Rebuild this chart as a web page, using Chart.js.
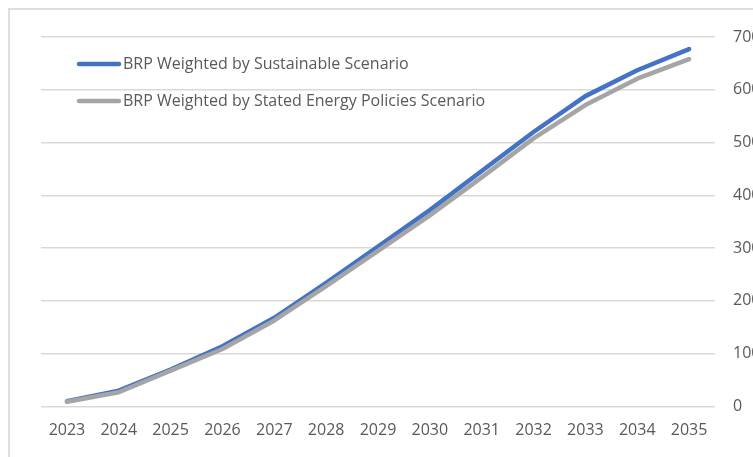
<!DOCTYPE html>
<html>
<head>
<meta charset="utf-8">
<script src="https://cdn.jsdelivr.net/npm/chart.js@4/dist/chart.umd.min.js"></script>
<style>
  html, body { margin: 0; padding: 0; background: #fff; overflow: hidden; }
  #wrap { position: relative; width: 753px; height: 457px; }
  #frame { position: absolute; left: 8px; top: 8px; width: 800px; height: 520px; border: 2px solid #dedede; box-sizing: border-box; }
  #brp { position: absolute; left: 0; top: 0; }
</style>
</head>
<body>
<div id="wrap">
  <div id="frame"></div>
  <canvas id="brp" width="753" height="457"></canvas>
</div>
<script>
// years and the two weighted BRP series
const years = ['2023','2024','2025','2026','2027','2028','2029','2030','2031','2032','2033','2034','2035']
const sustainable = [10, 30, 70, 114, 168, 234, 303, 372, 446, 520, 588, 637, 677]
const statedPolicies = [9, 27, 68, 109, 163, 228, 295, 362, 434, 508, 571, 621, 658]
const yTicks = [0, 100, 200, 300, 400, 500, 600, 700]

const textColor = '#595959'
const fontFamily = '"Open Sans", "Noto Sans", sans-serif'

// legend drawn inside the plot, top-left
const innerLegend = {
    id: 'innerLegend',
    afterDraw(chart) {
        const ctx = chart.ctx
        const area = chart.chartArea
        ctx.save()
        chart.data.datasets.forEach((ds, i) => {
            let y = area.top + 27 + i * 37
            let x0 = area.left + 38
            ctx.strokeStyle = ds.borderColor
            ctx.lineWidth = 4.5
            ctx.lineCap = 'round'
            ctx.beginPath()
            ctx.moveTo(x0, y)
            ctx.lineTo(x0 + 40, y)
            ctx.stroke()
            ctx.fillStyle = textColor
            ctx.font = '16px ' + fontFamily
            ctx.textBaseline = 'middle'
            ctx.fillText(ds.label, x0 + 44, y)
        })
        ctx.restore()
    }
}

let ctx = document.getElementById('brp').getContext('2d')

new Chart(ctx, {
    type: 'line',
    data: {
        labels: years,
        datasets: [{
            label: 'BRP Weighted by Sustainable Scenario',
            data: sustainable,
            borderColor: '#4472C4',
            borderWidth: 4.5,
            pointRadius: 0,
            tension: 0,
            borderCapStyle: 'round',
            borderJoinStyle: 'round',
            order: 2
        }, {
            label: 'BRP Weighted by Stated Energy Policies Scenario',
            data: statedPolicies,
            borderColor: '#A5A5A5',
            borderWidth: 4.5,
            pointRadius: 0,
            tension: 0,
            borderCapStyle: 'round',
            borderJoinStyle: 'round',
            order: 1
        }]
    },
    options: {
        responsive: false,
        animation: false,
        layout: { padding: { left: 41, top: 37, right: 0, bottom: 0 } },
        plugins: {
            legend: { display: false },
            tooltip: { enabled: false }
        },
        scales: {
            x: {
                offset: true,
                grid: { display: false, drawTicks: false },
                border: { display: false },
                ticks: {
                    color: textColor,
                    font: { family: fontFamily, size: 16 },
                    padding: 14,
                    maxRotation: 0,
                    autoSkip: false
                },
                afterFit(scale) { scale.height = 50.5 }
            },
            y: {
                position: 'right',
                min: yTicks[0],
                max: yTicks[yTicks.length - 1],
                afterBuildTicks(scale) { scale.ticks = yTicks.map(v => ({ value: v })) },
                grid: { color: '#d9d9d9', lineWidth: 1.5, drawTicks: false },
                border: { display: false },
                ticks: {
                    color: textColor,
                    font: { family: fontFamily, size: 16 },
                    padding: 18
                },
                afterFit(scale) { scale.width = 38 }
            }
        }
    },
    plugins: [innerLegend]
})
</script>
</body>
</html>
